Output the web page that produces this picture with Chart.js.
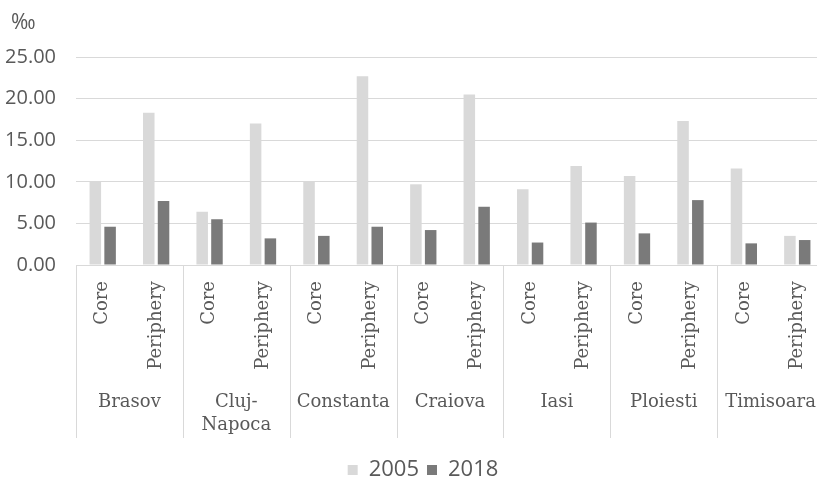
<!DOCTYPE html>
<html>
<head>
<meta charset="utf-8">
<script src="https://cdn.jsdelivr.net/npm/chart.js@4"></script>
<style>
  html, body { margin: 0; padding: 0; background: #fff; overflow: hidden; }
  #wrap { width: 846px; height: 491px; }
</style>
</head>
<body>
<div id="wrap"><canvas id="rateChart" width="846" height="491"></canvas></div>
<script>
// rates per 1000 inhabitants, core and periphery of each city
const cities = ['Brasov', 'Cluj-Napoca', 'Constanta', 'Craiova', 'Iasi', 'Ploiesti', 'Timisoara'];
const zones = ['Core', 'Periphery'];
const years = ['2005', '2018'];
const values2005 = [10.0, 18.3, 6.4, 17.0, 10.0, 22.7, 9.7, 20.5, 9.1, 11.9, 10.7, 17.3, 11.6, 3.5];
const values2018 = [4.6, 7.7, 5.5, 3.2, 3.5, 4.6, 4.2, 7.0, 2.7, 5.1, 3.8, 7.8, 2.6, 3.0];
const yMax = 25;
const yStep = 5;
const unitLabel = '‰';

const TEXT = '#595959';
const LINE = '#d9d9d9';
const PLOT_BOTTOM = 265;

// one category per city/zone pair
const labels = [];
cities.forEach(c => zones.forEach(z => labels.push([c, z])));

// city names under the zone labels, with separators between cities
const cityAxis = {
    id: 'cityAxis',
    afterLayout(chart) {
        // centre the legend on the whole figure, not only the padded box
        chart.legend.left += 11;
        chart.legend.right += 11;
    },
    afterDraw(chart) {
        const { ctx, chartArea, scales: { x } } = chart;
        const top = chartArea.bottom;
        const half = (x.getPixelForValue(1) - x.getPixelForValue(0)) / 2;
        ctx.save();
        ctx.strokeStyle = LINE;
        ctx.lineWidth = 1;
        for (let i = 0; i <= cities.length; i++) {
            const px = Math.round(x.getPixelForValue(i * 2) - half) + 0.5;
            ctx.beginPath();
            ctx.moveTo(px, top);
            ctx.lineTo(px, top + 173);
            ctx.stroke();
        }
        ctx.fillStyle = TEXT;
        ctx.font = '18px "DejaVu Serif"';
        ctx.textAlign = 'center';
        ctx.textBaseline = 'middle';
        cities.forEach((c, i) => {
            const cx = (x.getPixelForValue(i * 2) + x.getPixelForValue(i * 2 + 1)) / 2;
            const lines = c.includes('-') ? [c.slice(0, c.indexOf('-') + 1), c.slice(c.indexOf('-') + 1)] : [c];
            lines.forEach((t, j) => ctx.fillText(t, cx, top + 137 + j * 23));
        });
        ctx.font = '21px "Open Sans"';
        ctx.textAlign = 'left';
        ctx.fillText(unitLabel, 11, 23);
        ctx.restore();
    }
};

new Chart(document.getElementById('rateChart'), {
    type: 'bar',
    data: {
        labels: labels,
        datasets: [{
            label: years[0],
            data: values2005,
            backgroundColor: '#d9d9d9'
        }, {
            label: years[1],
            data: values2018,
            backgroundColor: '#7a7a7a'
        }]
    },
    options: {
        responsive: false,
        animation: false,
        categoryPercentage: 0.553,
        barPercentage: 0.78,
        layout: { padding: { top: 57, right: 22, left: 0, bottom: 0 } },
        plugins: {
            tooltip: { enabled: false },
            legend: {
                position: 'bottom',
                labels: {
                    boxWidth: 10,
                    boxHeight: 10,
                    padding: 8,
                    color: TEXT,
                    font: { family: 'Open Sans', size: 22 }
                }
            }
        },
        scales: {
            x: {
                grid: { display: false },
                border: { color: LINE },
                ticks: {
                    autoSkip: false,
                    minRotation: 90,
                    maxRotation: 90,
                    padding: 8,
                    color: TEXT,
                    font: { family: 'DejaVu Serif', size: 18 },
                    callback: (v, i) => labels[i][1]
                },
                afterFit: s => {
                    const legendH = s.chart.legend ? s.chart.legend.height : 40;
                    s.height = s.chart.height - PLOT_BOTTOM - legendH;
                }
            },
            y: {
                min: 0,
                max: yMax,
                grid: { color: LINE, drawTicks: false },
                border: { display: false },
                ticks: {
                    stepSize: yStep,
                    padding: 20,
                    color: TEXT,
                    font: { family: 'Open Sans', size: 20 },
                    callback: v => v.toFixed(2)
                },
                afterFit: s => { s.width = 76; }
            }
        }
    },
    plugins: [cityAxis]
});
</script>
</body>
</html>
